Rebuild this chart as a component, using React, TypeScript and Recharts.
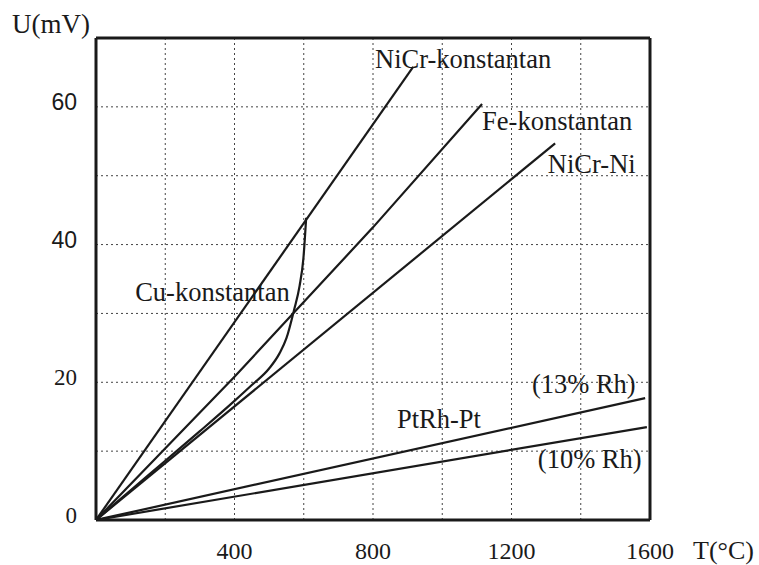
import React from 'react';
import {
  LineChart,
  Line,
  XAxis,
  YAxis,
  CartesianGrid,
  ReferenceLine,
  ReferenceDot,
} from 'recharts';

// Thermocouple voltage vs temperature
const tempTicks = [0, 200, 400, 600, 800, 1000, 1200, 1400, 1600];
const tempLabels = [400, 800, 1200, 1600];
const voltTicks = [0, 10, 20, 30, 40, 50, 60, 70];
const voltLabels = [0, 20, 40, 60];

const nicrKonstantan = [
  { t: 0, u: 0 },
  { t: 916, u: 65.8 },
];
const feKonstantan = [
  { t: 0, u: 0 },
  { t: 400, u: 20.8 },
  { t: 800, u: 42.5 },
  { t: 1115, u: 60.4 },
];
const nicrNi = [
  { t: 0, u: 0 },
  { t: 1326, u: 54.7 },
];
const cuKonstantan = [
  { t: 0, u: 0 },
  { t: 100, u: 4.3 },
  { t: 200, u: 8.6 },
  { t: 300, u: 12.9 },
  { t: 400, u: 17.3 },
  { t: 450, u: 19.6 },
  { t: 500, u: 22.0 },
  { t: 530, u: 24.2 },
  { t: 550, u: 26.4 },
  { t: 572, u: 30.5 },
  { t: 588, u: 34 },
  { t: 599, u: 38 },
  { t: 607, u: 43.9 },
];
const ptrh13 = [
  { t: 0, u: 0 },
  { t: 1586, u: 17.7 },
];
const ptrh10 = [
  { t: 0, u: 0 },
  { t: 1591, u: 13.5 },
];

const serif = '"Liberation Serif", "Times New Roman", serif';
const sans = '"Liberation Sans", Arial, sans-serif';
const ink = '#1a1a1a';

const XTick = (props: any) => {
  const { x, y, payload } = props;
  if (!tempLabels.includes(payload.value)) return null;
  return (
    <text x={x} y={y + 39} textAnchor="middle" fontFamily={serif} fontSize={24} fill={ink}>
      {payload.value}
    </text>
  );
};

const YTick = (props: any) => {
  const { x, y, payload } = props;
  if (!voltLabels.includes(payload.value)) return null;
  // the 40 and 60 in the scan are set in a sans face
  const face = payload.value >= 40 ? sans : serif;
  return (
    <text x={x - 19} y={y + 3} textAnchor="end" fontFamily={face} fontSize={23} fill={ink}>
      {payload.value}
    </text>
  );
};

const tag = (text: string) => (p: any) => (
  <text x={p.cx} y={p.cy} fontFamily={serif} fontSize={26.5} fill={ink}>
    {text}
  </text>
);

const App: React.FC = () => {
  return (
    <div style={{ position: 'absolute', left: 0, top: 0, background: '#fff' }}>
      <LineChart width={759} height={565} margin={{ top: 38, right: 109, bottom: 5, left: 36 }}>
        <CartesianGrid stroke="#444" strokeDasharray="2 3" strokeWidth={1} />
        <XAxis
          type="number"
          dataKey="t"
          domain={[0, 1600]}
          ticks={tempTicks}
          allowDataOverflow
          height={40}
          tickSize={0}
          tickMargin={0}
          tick={<XTick />}
          axisLine={{ stroke: ink, strokeWidth: 3 }}
          label={{
            content: (p: any) => (
              <text
                x={p.viewBox.x + p.viewBox.width + 43}
                y={p.viewBox.y + 39}
                fontFamily={serif}
                fontSize={26}
                fill={ink}
              >
                T(°C)
              </text>
            ),
          }}
        />
        <YAxis
          type="number"
          dataKey="u"
          domain={[0, 70]}
          ticks={voltTicks}
          allowDataOverflow
          width={60}
          tickSize={0}
          tickMargin={0}
          tick={<YTick />}
          axisLine={{ stroke: ink, strokeWidth: 3 }}
          label={{
            content: (p: any) => (
              <text x={p.viewBox.x - 24} y={p.viewBox.y - 5} fontFamily={serif} fontSize={27} fill={ink}>
                U(mV)
              </text>
            ),
          }}
        />
        <ReferenceLine y={70} stroke={ink} strokeWidth={3} />
        <ReferenceLine x={1600} stroke={ink} strokeWidth={3} />

        <Line data={nicrKonstantan} dataKey="u" stroke={ink} strokeWidth={2.2} dot={false} isAnimationActive={false} />
        <Line data={feKonstantan} dataKey="u" stroke={ink} strokeWidth={2.2} dot={false} isAnimationActive={false} />
        <Line data={nicrNi} dataKey="u" stroke={ink} strokeWidth={2.2} dot={false} isAnimationActive={false} />
        <Line
          data={cuKonstantan}
          dataKey="u"
          type="monotone"
          stroke={ink}
          strokeWidth={2.2}
          dot={false}
          isAnimationActive={false}
        />
        <Line data={ptrh13} dataKey="u" stroke={ink} strokeWidth={2.2} dot={false} isAnimationActive={false} />
        <Line data={ptrh10} dataKey="u" stroke={ink} strokeWidth={2.2} dot={false} isAnimationActive={false} />

        <ReferenceDot x={806} y={65.6} r={0} shape={tag('NiCr-konstantan')} />
        <ReferenceDot x={1115} y={56.7} r={0} shape={tag('Fe-konstantan')} />
        <ReferenceDot x={1305} y={50.4} r={0} shape={tag('NiCr-Ni')} />
        <ReferenceDot x={113} y={31.8} r={0} shape={tag('Cu-konstantan')} />
        <ReferenceDot x={869} y={13.4} r={0} shape={tag('PtRh-Pt')} />
        <ReferenceDot x={1259} y={18.4} r={0} shape={tag('(13% Rh)')} />
        <ReferenceDot x={1276} y={7.6} r={0} shape={tag('(10% Rh)')} />
      </LineChart>
    </div>
  );
};

export default App;
